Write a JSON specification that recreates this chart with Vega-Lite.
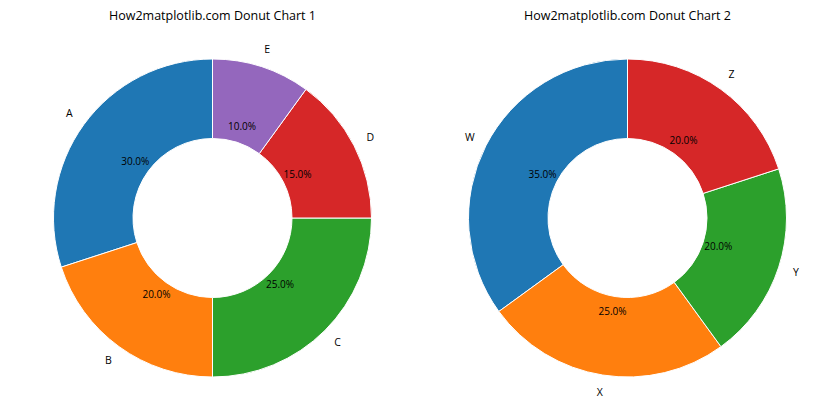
{
  "$schema": "https://vega.github.io/schema/vega-lite/v6.json",
  "padding": {"left": 5, "right": 5, "top": 9, "bottom": 0},
  "spacing": 0,
  "background": "white",
  "config": {
    "view": {"stroke": null},
    "font": "Open Sans",
    "title": {"fontSize": 12.5, "fontWeight": "normal", "color": "#000000", "font": "Open Sans", "offset": 8}
  },
  "datasets": {
    "d1": [
      {"label": "A", "value": 30, "pct": "30.0%", "ord": 5},
      {"label": "B", "value": 20, "pct": "20.0%", "ord": 4},
      {"label": "C", "value": 25, "pct": "25.0%", "ord": 3},
      {"label": "D", "value": 15, "pct": "15.0%", "ord": 2},
      {"label": "E", "value": 10, "pct": "10.0%", "ord": 1}
    ],
    "d2": [
      {"label": "W", "value": 35, "pct": "35.0%", "ord": 4},
      {"label": "X", "value": 25, "pct": "25.0%", "ord": 3},
      {"label": "Y", "value": 20, "pct": "20.0%", "ord": 2},
      {"label": "Z", "value": 20, "pct": "20.0%", "ord": 1}
    ]
  },
  "hconcat": [
    {
      "title": "How2matplotlib.com Donut Chart 1",
      "width": 415,
      "height": 376,
      "data": {"name": "d1"},
      "encoding": {
        "theta": {"field": "value", "type": "quantitative", "stack": true},
        "order": {"field": "ord", "type": "quantitative"}
      },
      "layer": [
        {
          "mark": {"type": "arc", "radius": 159, "radius2": 79.5, "stroke": "white", "strokeWidth": 1},
          "encoding": {
            "color": {"field": "label", "type": "nominal", "legend": null,
              "scale": {"domain": ["A", "B", "C", "D", "E"], "range": ["#1f77b4", "#ff7f0e", "#2ca02c", "#d62728", "#9467bd"]}}
          }
        },
        {
          "mark": {"type": "text", "radius": 95.4, "fontSize": 10, "color": "#000000"},
          "encoding": {"text": {"field": "pct"}}
        },
        {
          "mark": {"type": "text", "radius": 177, "fontSize": 10.5, "color": "#000000"},
          "encoding": {"text": {"field": "label"}}
        }
      ]
    },
    {
      "title": "How2matplotlib.com Donut Chart 2",
      "width": 415,
      "height": 376,
      "data": {"name": "d2"},
      "encoding": {
        "theta": {"field": "value", "type": "quantitative", "stack": true},
        "order": {"field": "ord", "type": "quantitative"}
      },
      "layer": [
        {
          "mark": {"type": "arc", "radius": 159, "radius2": 79.5, "stroke": "white", "strokeWidth": 1},
          "encoding": {
            "color": {"field": "label", "type": "nominal", "legend": null,
              "scale": {"domain": ["W", "X", "Y", "Z"], "range": ["#1f77b4", "#ff7f0e", "#2ca02c", "#d62728"]}}
          }
        },
        {
          "mark": {"type": "text", "radius": 95.4, "fontSize": 10, "color": "#000000"},
          "encoding": {"text": {"field": "pct"}}
        },
        {
          "mark": {"type": "text", "radius": 177, "fontSize": 10.5, "color": "#000000"},
          "encoding": {"text": {"field": "label"}}
        }
      ]
    }
  ],
  "resolve": {"scale": {"color": "independent"}}
}
